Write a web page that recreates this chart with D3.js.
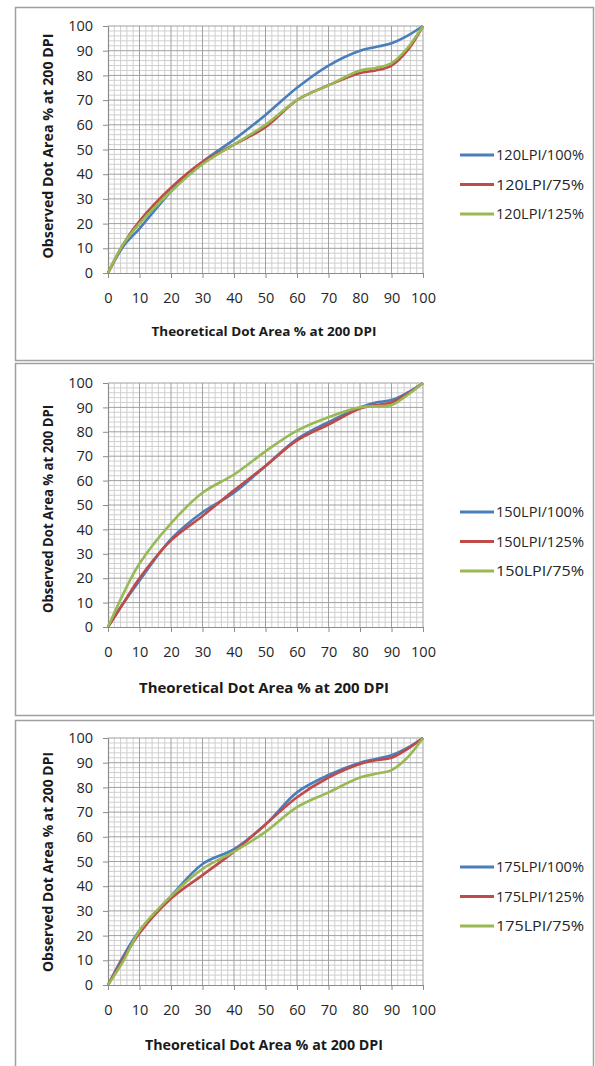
<!DOCTYPE html>
<html>
<head>
<meta charset="utf-8">
<style>
    body { margin: 0; background: #fff; }
    svg { display: block; font-family: 'Open Sans', sans-serif; }
    .minor line { stroke: #cfcfcf; stroke-width: 1; }
    .major line { stroke: #a0a0a0; stroke-width: 1; }
    .axis .domain { stroke: #8c8c8c; stroke-width: 1.2; }
    .axis .tick line { stroke: #8c8c8c; }
    .axis .tick text { font-size: 14.5px; fill: #262626; }
    .title { font-weight: bold; fill: #1a1a1a; }
    .legend text { font-size: 14px; fill: #262626; }
</style>
</head>
<body>
<svg width="595" height="1066"></svg>

<script src="https://d3js.org/d3.v7.min.js"></script>
<script>
    // theoretical dot area (x) shared by every series
    let dotArea = [0, 5, 10, 20, 30, 40, 50, 60, 70, 80, 85, 90, 95, 100];

    // 120 LPI
    let lpi120_100 = [0, 11, 18, 33, 45, 54, 64, 75, 84, 90, 91.5, 93, 96, 100];
    let lpi120_75  = [0, 12, 21, 34.5, 45, 52, 59, 70, 76, 81, 82, 84, 90, 100];
    let lpi120_125 = [0, 12, 20, 33, 44, 52, 60, 70, 76, 82, 83, 85, 91, 100];
    let names120 = ["120LPI/100%", "120LPI/75%", "120LPI/125%"];

    // 150 LPI
    let lpi150_100 = [0, 10, 19, 36, 47, 55, 66, 77, 84, 90, 92, 93, 96, 100];
    let lpi150_125 = [0, 10, 20, 35.5, 45.5, 56, 66, 76.5, 83, 89.5, 91, 92, 95.5, 100];
    let lpi150_75  = [0, 14, 26, 42.5, 55, 62.5, 72, 80.5, 86, 90, 90.5, 91, 95, 100];
    let names150 = ["150LPI/100%", "150LPI/125%", "150LPI/75%"];

    // 175 LPI
    let lpi175_100 = [0, 12, 22, 36, 49, 55, 65, 78, 85, 90, 91.5, 93, 96, 100];
    let lpi175_125 = [0, 11, 21, 35, 44.5, 54, 65, 76, 84, 89.5, 91, 92, 95.5, 100];
    let lpi175_75  = [0, 10, 22, 36, 47, 54, 62, 72, 78, 84, 85.5, 87, 92, 100];
    let names175 = ["175LPI/100%", "175LPI/125%", "175LPI/75%"];

    let axisTicks = d3.range(0, 101, 10);
    let minorTicks = d3.range(0, 101, 2);
    let xTitle = "Theoretical Dot Area % at 200 DPI";
    let yTitle = "Observed  Dot Area % at 200 DPI";

    let colors = ["#4a7ebb", "#be4b48", "#98b954"];

    let panels = [
        { box: [7, 360], top: 26, bottom: 273, series: [lpi120_100, lpi120_75, lpi120_125], names: names120,
          xt: { y: 336, len: 225, size: 13 }, yt: { cy: 146, len: 225 } },
        { box: [363, 715], top: 383, bottom: 627, series: [lpi150_100, lpi150_125, lpi150_75], names: names150,
          xt: { y: 693, len: 250, size: 14.5 }, yt: { cy: 509, len: 208 } },
        { box: [720, 1075], top: 738, bottom: 985, series: [lpi175_100, lpi175_125, lpi175_75], names: names175,
          xt: { y: 1050, len: 238, size: 14 }, yt: { cy: 862, len: 220 } }
    ];

    let svg = d3.select("svg");
    let left = 108, right = 423;

    panels.forEach(function (p) {
        svg.append("rect")
            .attr("x", 15.5).attr("y", p.box[0] + 0.5)
            .attr("width", 578).attr("height", p.box[1] - p.box[0])
            .style("fill", "none").style("stroke", "#a0a0a0").style("stroke-width", 1.5);

        let x = d3.scaleLinear().domain([0, 100]).range([left, right]);
        let y = d3.scaleLinear().domain([0, 100]).range([p.bottom, p.top]);

        let g = svg.append("g");

        // grid
        let minor = g.append("g").attr("class", "minor");
        minor.selectAll(".v").data(minorTicks.filter(d => d % 10)).join("line")
            .attr("x1", d => x(d)).attr("x2", d => x(d))
            .attr("y1", p.top).attr("y2", p.bottom);
        minor.selectAll(".h").data(minorTicks.filter(d => d % 10)).join("line")
            .attr("y1", d => y(d)).attr("y2", d => y(d))
            .attr("x1", left).attr("x2", right);
        let major = g.append("g").attr("class", "major");
        major.selectAll(".v").data(axisTicks.slice(1)).join("line")
            .attr("x1", d => x(d)).attr("x2", d => x(d))
            .attr("y1", p.top).attr("y2", p.bottom);
        major.selectAll(".h").data(axisTicks.slice(1)).join("line")
            .attr("y1", d => y(d)).attr("y2", d => y(d))
            .attr("x1", left).attr("x2", right);

        // axes
        g.append("g").attr("class", "axis")
            .attr("transform", `translate(0,${p.bottom})`)
            .call(d3.axisBottom(x).tickValues(axisTicks).tickSize(5).tickSizeOuter(0).tickPadding(15));
        g.append("g").attr("class", "axis")
            .attr("transform", `translate(${left},0)`)
            .call(d3.axisLeft(y).tickValues(axisTicks).tickSize(5).tickSizeOuter(0).tickPadding(10));
        g.selectAll(".axis .tick text").style("font-family", "'Open Sans', sans-serif");

        // lines
        let line = d3.line()
            .x((d, i) => x(dotArea[i]))
            .y(d => y(d))
            .curve(d3.curveCatmullRom.alpha(0.5));

        g.selectAll(".series").data(p.series).join("path")
            .attr("d", d => line(d))
            .style("fill", "none")
            .style("stroke", (d, i) => colors[i])
            .style("stroke-width", 2.6)
            .style("stroke-linejoin", "round");

        // titles
        g.append("text").attr("class", "title")
            .attr("x", 264).attr("y", p.xt.y)
            .attr("text-anchor", "middle")
            .attr("textLength", p.xt.len).attr("lengthAdjust", "spacingAndGlyphs")
            .style("font-size", p.xt.size + "px")
            .text(xTitle);
        g.append("text").attr("class", "title")
            .attr("transform", `translate(53,${p.yt.cy}) rotate(-90)`)
            .attr("text-anchor", "middle")
            .attr("textLength", p.yt.len).attr("lengthAdjust", "spacingAndGlyphs")
            .style("font-size", "14px")
            .text(yTitle);

        // legend
        let leg = g.append("g").attr("class", "legend");
        p.names.forEach(function (n, i) {
            let ly = p.top + 129 + i * 29.5;
            leg.append("line")
                .attr("x1", 460).attr("x2", 494).attr("y1", ly).attr("y2", ly)
                .style("stroke", colors[i]).style("stroke-width", 3);
            leg.append("text")
                .attr("x", 496).attr("y", ly).attr("dy", "0.36em")
                .attr("textLength", 88).attr("lengthAdjust", "spacingAndGlyphs")
                .text(n);
        });
    });
</script>
</body>
</html>
